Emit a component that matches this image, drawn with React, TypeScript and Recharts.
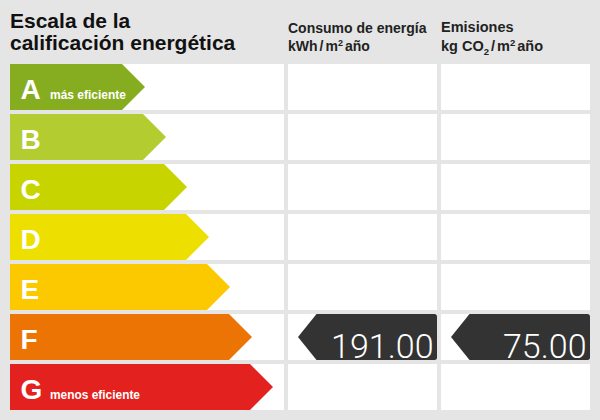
import React from 'react';
import { BarChart, Bar, XAxis, YAxis } from 'recharts';

// ---- data ----
const ratings = ['A', 'B', 'C', 'D', 'E', 'F', 'G'];
const ratingNotes = ['más eficiente', '', '', '', '', '', 'menos eficiente'];
const ratingColors = ['#86ad1f', '#b3cc30', '#c8d400', '#ede000', '#fcc800', '#ec7404', '#e3221f'];
const arrowLengths = [135, 156, 177, 199, 220, 242, 263];
const energyRating = 'F';
const energyValue = 191.0;
const emissionsRating = 'F';
const emissionsValue = 75.0;

const titleLines = ['Escala de la', 'calificación energética'];

const arrowData = ratings.map((r, i) => ({
  rating: r,
  length: arrowLengths[i],
  note: ratingNotes[i],
  color: ratingColors[i],
}));
// rows without the rating marker carry 0 so the white cell is still drawn
const energyData = ratings.map((r) => ({ rating: r, value: r === energyRating ? energyValue : 0 }));
const emissionsData = ratings.map((r) => ({ rating: r, value: r === emissionsRating ? emissionsValue : 0 }));

const FONT = "'Liberation Sans', Arial, sans-serif";

const ArrowShape = (props: any) => {
  const { x, y, width, height, payload } = props;
  if (!width || !(width > 0)) return <g />;
  const h2 = height / 2;
  const body = x + width - h2;
  const pts = `${x},${y} ${body},${y} ${x + width},${y + h2} ${body},${y + height} ${x},${y + height}`;
  return (
    <g>
      <polygon points={pts} fill={payload.color} />
      <text x={x + 10.5} y={y + 35} fill="#fff" fontFamily={FONT} fontWeight="bold" fontSize={28}>
        {payload.rating}
      </text>
      {payload.note ? (
        <text
          x={x + 40}
          y={y + 34.5}
          fill="#fff"
          fontFamily={FONT}
          fontWeight="bold"
          fontSize={13}
          textLength={payload.note.length > 13 ? 90 : 76}
          lengthAdjust="spacingAndGlyphs"
        >
          {payload.note}
        </text>
      ) : null}
    </g>
  );
};

const ValueShape = (props: any) => {
  const { x, y, width, height, value } = props;
  const v = Array.isArray(value) ? value[1] : value;
  if (!v || !(width > 0)) return <g />;
  const right = x + width;
  const left = right - 139;
  const h2 = height / 2;
  const r = 2.5;
  const d = `M${left},${y + h2} L${left + 18.5},${y} L${right - r},${y} Q${right},${y} ${right},${y + r} L${right},${y + height - r} Q${right},${y + height} ${right - r},${y + height} L${left + 18.5},${y + height} Z`;
  return (
    <g>
      <path d={d} fill="#333333" />
      <text
        x={right - 3.5}
        y={y + 44.3}
        textAnchor="end"
        fill="#fff"
        fontFamily="Roboto, 'Liberation Sans', sans-serif"
        fontWeight={300}
        fontSize={34}
      >
        {Number(v).toFixed(2)}
      </text>
    </g>
  );
};

const cellChart = (data: any[], width: number, domain: any, shape: any, key: string) => (
  <BarChart
    width={width}
    height={350}
    data={data}
    layout="vertical"
    margin={{ top: 0, right: 0, bottom: 0, left: 0 }}
  >
    <XAxis type="number" hide domain={domain} />
    <YAxis type="category" dataKey="rating" hide />
    <Bar
      dataKey={key}
      barSize={46}
      background={{ fill: '#ffffff' }}
      shape={shape}
      isAnimationActive={false}
    />
  </BarChart>
);

export default function App() {
  return (
    <div
      style={{
        position: 'absolute',
        left: 0,
        top: 0,
        width: 600,
        height: 420,
        background: '#e5e5e5',
        overflow: 'hidden',
        fontFamily: FONT,
      }}
    >
      <svg width={600} height={62} style={{ position: 'absolute', left: 0, top: 0 }}>
        <text x={10} y={28.3} fontFamily={FONT} fontWeight="bold" fontSize={21} fill="#111">
          {titleLines[0]}
        </text>
        <text x={10} y={50.3} fontFamily={FONT} fontWeight="bold" fontSize={21} fill="#111">
          {titleLines[1]}
        </text>
        <text x={288} y={32.7} fontFamily={FONT} fontWeight="bold" fontSize={14} fill="#222">
          Consumo de energía
        </text>
        <text x={288} y={50.7} fontFamily={FONT} fontWeight="bold" fontSize={14} fill="#222">
          kWh
          <tspan dx={2}>/</tspan>
          <tspan dx={2}>m</tspan>
          <tspan fontSize={9} dy={-5}>2</tspan>
          <tspan dy={5} dx={2}>año</tspan>
        </text>
        <text x={441} y={31.7} fontFamily={FONT} fontWeight="bold" fontSize={14.5} fill="#222">
          Emisiones
        </text>
        <text x={441} y={50.7} fontFamily={FONT} fontWeight="bold" fontSize={14.5} fill="#222">
          kg CO
          <tspan fontSize={9.5} dy={4}>2</tspan>
          <tspan dy={-4} dx={2}>/</tspan>
          <tspan dx={2}>m</tspan>
          <tspan fontSize={9.5} dy={-5}>2</tspan>
          <tspan dy={5} dx={2}>año</tspan>
        </text>
      </svg>
      <div style={{ position: 'absolute', left: 10, top: 62 }}>
        {cellChart(arrowData, 274, [0, 274], ArrowShape, 'length')}
      </div>
      <div style={{ position: 'absolute', left: 288, top: 62 }}>
        {cellChart(energyData, 149, [0, 'dataMax'], ValueShape, 'value')}
      </div>
      <div style={{ position: 'absolute', left: 441, top: 62 }}>
        {cellChart(emissionsData, 149, [0, 'dataMax'], ValueShape, 'value')}
      </div>
    </div>
  );
}
